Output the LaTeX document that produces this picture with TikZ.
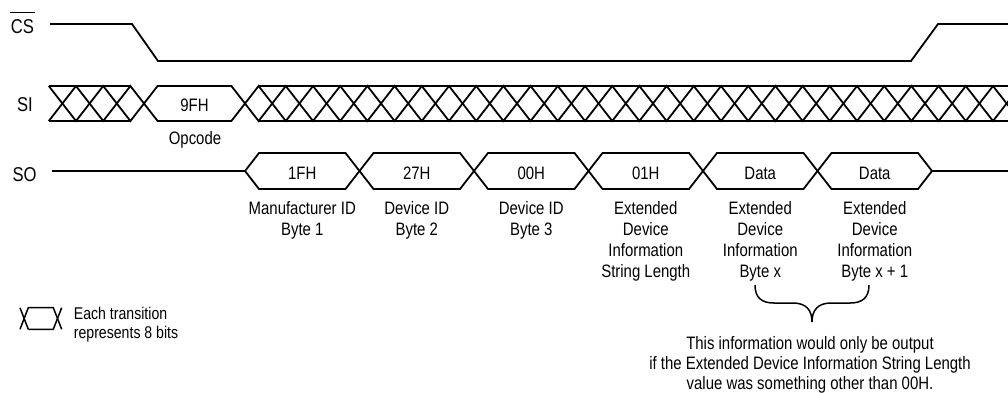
\documentclass[tikz,border=0pt]{standalone}
\usepackage{fontspec}
\setmainfont{Liberation Sans}[FakeStretch=0.83]
\begin{document}
\begin{tikzpicture}[x=1pt,y=-1pt,line width=1.8pt,line join=miter,
  sig/.style={font=\fontsize{20}{22}\selectfont,anchor=base,inner sep=0pt},
  val/.style={font=\fontsize{18}{20}\selectfont,anchor=base,inner sep=0pt},
  lbl/.style={font=\fontsize{18}{20.7}\selectfont,anchor=north,align=center,inner sep=0pt},
  note/.style={font=\fontsize{18}{19.6}\selectfont,anchor=north,align=center,inner sep=0pt},
  legtext/.style={font=\fontsize{17}{19}\selectfont,anchor=north west,align=left,inner sep=0pt},
  thin/.style={line width=1.5pt}]
\useasboundingbox (0,0) rectangle (1008,393);
\clip (0,0) rectangle (1008,393);
% signal names
\node[sig] (cs) at (22.5,34) {CS};
\draw[line width=1.2pt] ([yshift=7pt]cs.north west) -- ([yshift=7pt]cs.north east);
\node[sig] (si) at (25,111) {SI};
\node[sig] (so) at (24.5,181) {SO};
% CS waveform
\draw (50,24) -- (132,24) -- (158,61) -- (911,61) -- (938,24) -- (1012,24);
% SI bus
\def\T{86}\def\B{121}
\draw (48.8,\T) -- (76,\B) -- (103.2,\T) -- (130.4,\B) -- (157.6,\T) -- (231.4,\T)
  \foreach \j in {1,3,...,29} { -- ({231.4+27.2*\j},\B) -- ({258.6+27.2*\j},\T) };
\draw (48.8,\B) -- (76,\T) -- (103.2,\B) -- (130.4,\T) -- (157.6,\B) -- (231.4,\B)
  \foreach \j in {1,3,...,29} { -- ({231.4+27.2*\j},\T) -- ({258.6+27.2*\j},\B) };
\draw (48.8,\T) -- (130.4,\T);
\draw (48.8,\B) -- (130.4,\B);
\draw (258.6,\T) -- (1012,\T);
\draw (258.6,\B) -- (1012,\B);
\node[val] (op) at (194.5,111.5) {9FH};
\node[val] (opl) at (195,144) {Opcode};
% SO bus
\def\ST{153}\def\SB{189}\def\SM{171}
\draw (52,\SM) -- (245,\SM);
\draw (932,\SM) -- (1012,\SM);
\foreach \k in {0,...,5} {
  \pgfmathsetmacro{\ca}{245+114.5*\k}
  \pgfmathsetmacro{\cb}{359.5+114.5*\k}
  \draw (\ca,\SM) -- ({\ca+14},\ST) -- ({\cb-14},\ST) -- (\cb,\SM) -- ({\cb-14},\SB) -- ({\ca+14},\SB) -- cycle;
}
\node[val] (v1) at (302.25,179) {1FH};
\node[val] (v2) at (416.75,179) {27H};
\node[val] (v3) at (531.25,179) {00H};
\node[val] (v4) at (645.75,179) {01H};
\node[val] (v5) at (760.25,179) {Data};
\node[val] (v6) at (874.75,179) {Data};
\node[lbl] (l1) at (302.25,201) {Manufacturer ID\\Byte 1};
\node[lbl] (l2) at (416.75,201) {Device ID\\Byte 2};
\node[lbl] (l3) at (531.25,201) {Device ID\\Byte 3};
\node[lbl] (l4) at (645.75,201) {Extended\\Device\\Information\\String Length};
\node[lbl] (l5) at (760.25,201) {Extended\\Device\\Information\\Byte x};
\node[lbl] (l6) at (874.75,201) {Extended\\Device\\Information\\Byte x + 1};
% brace
\draw[thin] (755,285) .. controls (755,298) and (762,303) .. (774,303) -- (793,303)
  .. controls (806,303) and (812,310) .. (812,322)
  .. controls (812,310) and (818,303) .. (831,303) -- (850,303)
  .. controls (862,303) and (869,298) .. (869,285);
\node[note] (nt) at (810,336) {This information would only be output\\if the Extended Device Information String Length\\value was something other than 00H.};
% legend
\def\LT{307.7}\def\LB{329.3}
\draw[thin] (20,\LT) -- (28.3,\LB);
\draw[thin] (20,\LB) -- (28.3,\LT) -- (53.3,\LT) -- (61.7,\LB);
\draw[thin] (28.3,\LB) -- (53.3,\LB) -- (61.7,\LT);
\node[legtext] (lg) at (73,306) {Each transition\\represents 8 bits};
\end{tikzpicture}
\end{document}
